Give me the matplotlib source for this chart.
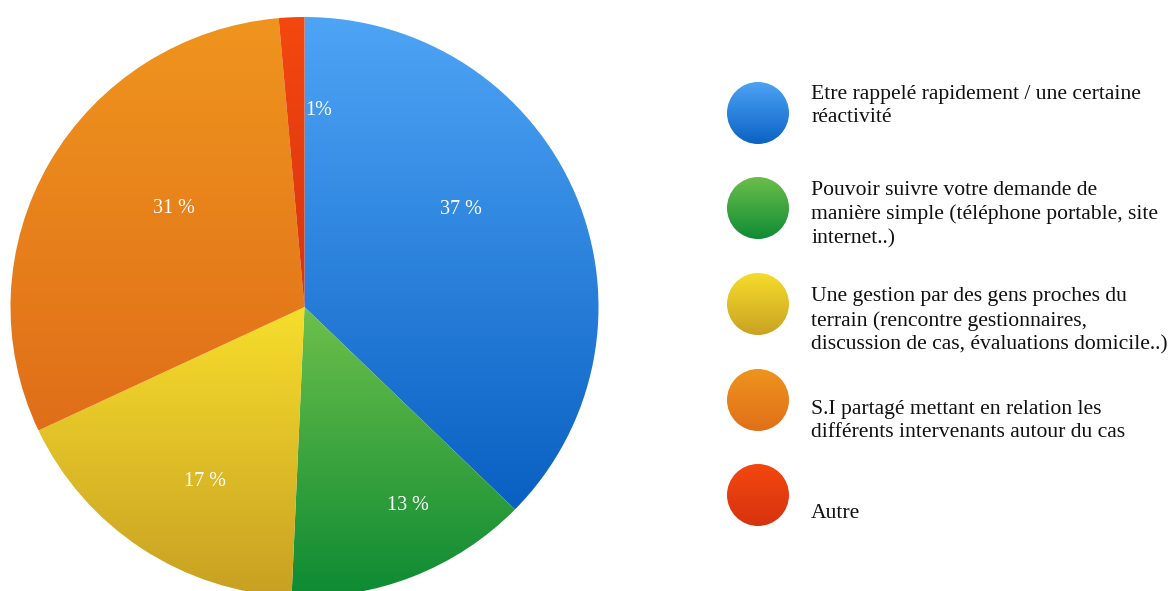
import numpy as np
import matplotlib
matplotlib.use("Agg")
import matplotlib.pyplot as plt
from matplotlib.colors import LinearSegmentedColormap
from matplotlib.patches import Circle

# ---- data ----
categories = [
    "Etre rappelé rapidement / une certaine\nréactivité",
    "Pouvoir suivre votre demande de\nmanière simple (téléphone portable, site\ninternet..)",
    "Une gestion par des gens proches du\nterrain (rencontre gestionnaires,\ndiscussion de cas, évaluations domicile..)",
    "S.I partagé mettant en relation les\ndifférents intervenants autour du cas",
    "Autre",
]
values = [37.3, 13.4, 17.3, 30.6, 1.4]
pct_labels = ["37 %", "13 %", "17 %", "31 %", "1%"]

# ---- styles ----
top_colors = ["#4EA5F6", "#6DC04B", "#F7DE2C", "#EF951E", "#F5480F"]
bot_colors = ["#0A60C2", "#0D8A33", "#C8A023", "#E06E19", "#D6320F"]
# label placement (angle shift in degrees, radius fraction)
label_layout = [(9.4, 0.63), (5.7, 0.77), (4.3, 0.69), (-7.6, 0.56), (-6.5, 0.68)]

W, H = 1176, 591
fig = plt.figure(figsize=(W / 100, H / 100), dpi=100)
fig.patch.set_facecolor("white")

serif = ["Liberation Serif", "DejaVu Serif"]

# pie axes (pixel geometry of reference)
cx, cy, rx, ry = 304.5, 307, 294, 290
m = 1.03
ax = fig.add_axes([(cx - m * rx) / W, (H - cy - m * ry) / H, 2 * m * rx / W, 2 * m * ry / H])
wedges, _ = ax.pie(values, startangle=90, counterclock=False, radius=1.0,
                   wedgeprops=dict(linewidth=0))
ax.set_aspect("auto")
ax.axis("off")

grad = np.linspace(0, 1, 256).reshape(-1, 1)
for w, c1, c2 in zip(wedges, top_colors, bot_colors):
    w.set_facecolor("none")
    cmap = LinearSegmentedColormap.from_list("g", [c1, c2])
    th1, th2 = np.deg2rad(w.theta1), np.deg2rad(w.theta2)
    ang = np.linspace(th1, th2, 200)
    py = np.concatenate([[0], np.sin(ang)])
    ymin, ymax = py.min(), py.max()
    im = ax.imshow(grad, cmap=cmap, aspect="auto", origin="upper",
                   extent=(-m, m, ymin, ymax), zorder=1, interpolation="bilinear")
    im.set_clip_path(w)
ax.set_xlim(-m, m)
ax.set_ylim(-m, m)

for w, lab, (dang, rf) in zip(wedges, pct_labels, label_layout):
    mid = np.deg2rad((w.theta1 + w.theta2) / 2 + dang)
    ax.text(rf * np.cos(mid), rf * np.sin(mid), lab, color="white",
            ha="center", va="center", fontsize=14.5, family=serif, zorder=3)

# legend axes in pixel coordinates
lax = fig.add_axes([0, 0, 1, 1])
lax.set_xlim(0, W)
lax.set_ylim(H, 0)
lax.axis("off")
circle_y = [113, 208, 304, 400, 495]
text_y = [106, 214.5, 321, 421, 513]
for yy, ty, lab, c1, c2 in zip(circle_y, text_y, categories, top_colors, bot_colors):
    circ = Circle((758, yy), 31, facecolor="none", edgecolor="none")
    lax.add_patch(circ)
    cmap = LinearSegmentedColormap.from_list("g", [c1, c2])
    im = lax.imshow(grad, cmap=cmap, aspect="auto", origin="upper",
                    extent=(725, 791, yy + 33, yy - 33), interpolation="bilinear")
    im.set_clip_path(circ)
    lax.text(811, ty, lab, ha="left", va="center", fontsize=15.6, family=serif,
             color="#111111", linespacing=1.32)
lax.set_xlim(0, W)
lax.set_ylim(H, 0)

fig.savefig("out.png", dpi=100, facecolor="white")
